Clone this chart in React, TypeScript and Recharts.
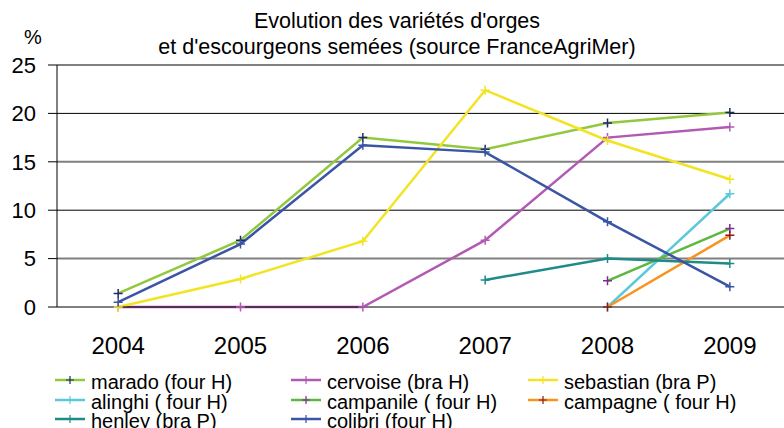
import React from 'react';
import { LineChart, Line, XAxis, YAxis, ReferenceLine, Legend } from 'recharts';

const years = ['2004', '2005', '2006', '2007', '2008', '2009'];
const yTicks = [0, 5, 10, 15, 20, 25];

const marado = [1.4, 6.9, 17.5, 16.3, 19.0, 20.1];
const cervoise = [0, 0, 0, 6.9, 17.5, 18.6];
const sebastian = [0, 2.9, 6.8, 22.4, 17.2, 13.2];
const alinghi = [null, null, null, null, 0, 11.7];
const campanile = [null, null, null, null, 2.7, 8.1];
const campagne = [null, null, null, null, 0, 7.4];
const henley = [null, null, null, 2.8, 5.0, 4.5];
const colibri = [0.5, 6.5, 16.7, 16.0, 8.8, 2.1];

const seriesNames = [
  'marado (four H)',
  'cervoise (bra H)',
  'sebastian (bra P)',
  'alinghi ( four H)',
  'campanile ( four H)',
  'campagne ( four H)',
  'henley (bra P)',
  'colibri (four H)',
];
const seriesValues = [marado, cervoise, sebastian, alinghi, campanile, campagne, henley, colibri];
const lineColors = ['#92C83E', '#B25AB2', '#F2E422', '#5CC8DC', '#5DB840', '#F7941D', '#1E8A8A', '#3A54A6'];
const markerColors = ['#1F2A6B', '#B25AB2', '#F2E422', '#5CC8DC', '#7B2E8E', '#8B1A1A', '#1E8A8A', '#3A54A6'];

const data = years.map((y, i) => {
  const row: any = { year: y, idx: i + 0.5 };
  seriesValues.forEach((vals, s) => {
    row['s' + s] = vals[i];
  });
  return row;
});

const FONT = '"Liberation Sans", Arial, sans-serif';

const plusDot = (color: string) => (props: any) => {
  const { cx, cy, value, index } = props;
  if (cx == null || cy == null || value == null || isNaN(cy)) return <g key={'d' + index} />;
  return (
    <path
      key={'d' + index}
      d={`M${cx - 4.5},${cy}h9M${cx},${cy - 4.5}v9`}
      stroke={color}
      strokeWidth={1.5}
      fill="none"
    />
  );
};

const LegendContent = () => (
  <div
    style={{
      display: 'grid',
      gridTemplateColumns: '236px 237px 236px',
      fontFamily: FONT,
      fontSize: 20,
      lineHeight: '19.5px',
      color: '#000',
    }}
  >
    {seriesNames.map((name, i) => (
      <div key={name} style={{ display: 'flex', alignItems: 'flex-start', height: 19.5, whiteSpace: 'nowrap' }}>
        <svg width={36} height={19} style={{ flex: 'none' }}>
          <line x1={0} y1={7} x2={30} y2={7} stroke={lineColors[i]} strokeWidth={2.5} />
          <path d="M15,3v8M11,7h8" stroke={markerColors[i]} strokeWidth={1.2} />
        </svg>
        <span>{name}</span>
      </div>
    ))}
  </div>
);

export default function App() {
  return (
    <div
      style={{
        position: 'absolute',
        left: 0,
        top: 0,
        width: 784,
        height: 428,
        overflow: 'hidden',
        background: '#fff',
        fontFamily: FONT,
      }}
    >
      <div
        style={{
          position: 'absolute',
          left: 0,
          top: 8,
          width: 794,
          textAlign: 'center',
          fontSize: 21.5,
          lineHeight: '26px',
          color: '#000',
          zIndex: 2,
        }}
      >
        <div>Evolution des variétés d'orges</div>
        <div>et d'escourgeons semées (source FranceAgriMer)</div>
      </div>
      <div
        style={{
          position: 'absolute',
          left: 24,
          top: 27,
          fontSize: 20,
          lineHeight: '20px',
          color: '#000',
          zIndex: 2,
        }}
      >
        %
      </div>
      <LineChart
        width={800}
        height={428}
        data={data}
        margin={{ top: 65, right: 9, bottom: 91, left: 0 }}
        style={{ fontFamily: FONT }}
      >
        <XAxis
          xAxisId="ticks"
          type="number"
          dataKey="idx"
          domain={[0, 6]}
          ticks={[0, 1, 2, 3, 4, 5, 6]}
          tick={false}
          tickSize={6}
          tickLine={{ stroke: '#000', strokeWidth: 1 }}
          axisLine={false}
          height={0}
        />
        <XAxis
          dataKey="year"
          scale="band"
          tickLine={false}
          tickSize={0}
          tickMargin={30}
          axisLine={{ stroke: '#000', strokeWidth: 1 }}
          tick={{ fill: '#000', fontSize: 24, fontFamily: FONT }}
          height={30}
          interval={0}
        />
        <YAxis
          domain={[0, 25]}
          ticks={yTicks}
          width={57}
          tickSize={9}
          tickMargin={12}
          tickLine={{ stroke: '#000' }}
          axisLine={{ stroke: '#000' }}
          tick={{ fill: '#000', fontSize: 22, fontFamily: FONT }}
          interval={0}
        />
        {yTicks
          .filter((t) => t > 0)
          .map((t) => (
            <ReferenceLine
              key={'g' + t}
              y={t}
              stroke={t % 10 === 5 ? '#808080' : '#000'}
              strokeWidth={t % 10 === 5 ? 2 : 1}
            />
          ))}
        {seriesNames.map((name, i) => (
          <Line
            key={name}
            name={name}
            dataKey={'s' + i}
            stroke={lineColors[i]}
            strokeWidth={2.5}
            dot={plusDot(markerColors[i])}
            activeDot={false}
            isAnimationActive={false}
            connectNulls={false}
          />
        ))}
        <Legend
          layout="horizontal"
          verticalAlign="middle"
          align="center"
          content={<LegendContent />}
          wrapperStyle={{ top: 373, left: 55, width: 720, height: 60 }}
        />
      </LineChart>
    </div>
  );
}
